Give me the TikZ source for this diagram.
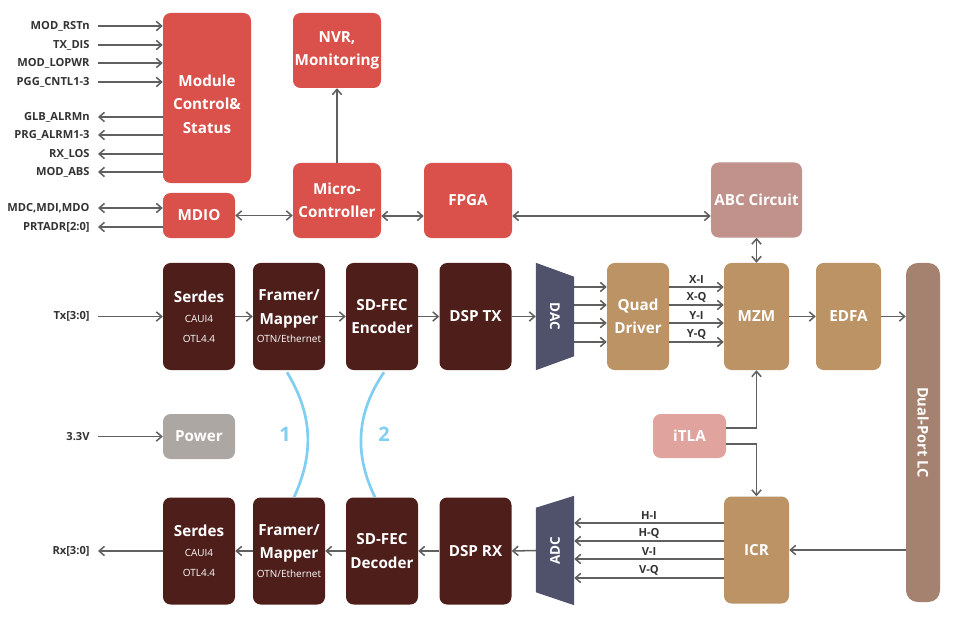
\documentclass[tikz,border=0pt]{standalone}
\usepackage{fontspec}
\setmainfont{Open Sans}
\usepackage{graphicx}
\usetikzlibrary{arrows.meta,positioning,calc}
\definecolor{Ctrl}{HTML}{D9514A}
\definecolor{Core}{HTML}{4E1F1A}
\definecolor{Optic}{HTML}{BB9365}
\definecolor{Abc}{HTML}{C0928B}
\definecolor{Laser}{HTML}{E0A39D}
\definecolor{Supply}{HTML}{ADA7A3}
\definecolor{Port}{HTML}{A4826F}
\definecolor{Conv}{HTML}{50516A}
\definecolor{Wire}{HTML}{606060}
\definecolor{Sky}{HTML}{80CEF2}
\definecolor{Lbl}{HTML}{333333}
\newcommand{\sub}[1]{{\fontsize{8.5}{9}\selectfont\mdseries #1}}
\tikzset{blk/.style={rounded corners=2.3mm,inner sep=1pt,align=center,text=white,font=\fontsize{13}{20}\selectfont\bfseries},
ctl/.style={blk,fill=Ctrl,minimum width=2.64cm,minimum height=2.25cm},
core/.style={blk,fill=Core,minimum width=2.16cm,minimum height=3.21cm},
optic/.style={blk,fill=Optic,minimum width=1.95cm,minimum height=3.21cm},
conv/.style={inner sep=0pt,minimum width=1.14cm,text=white,font=\fontsize{11.5}{12}\selectfont\bfseries},
flow/.style={-{Straight Barb[length=1.6mm,width=2.8mm]},line width=1.3pt,draw=Wire},
flow2/.style={flow,{Straight Barb[length=1.6mm,width=2.8mm]}-{Straight Barb[length=1.6mm,width=2.8mm]}},
sig/.style={anchor=east,inner xsep=7pt,inner ysep=1pt,font=\fontsize{9.5}{10}\selectfont\bfseries,text=Lbl},
tag/.style={above,inner sep=2pt,font=\fontsize{9.5}{10}\selectfont\bfseries,text=Lbl},
link/.style={draw=Sky,line width=2.3pt},
num/.style={text=Sky,font=\fontsize{17}{17}\selectfont\bfseries}}

\begin{document}
\begin{tikzpicture}[x=0.03cm,y=-0.03cm]
\useasboundingbox (0,0) rectangle (953,623);
% management side
\node[ctl,minimum height=5.1cm] (ctrl) at (207,98) {\rule{0pt}{20pt}Module\\Control\&\\Status};
\node[ctl,minimum width=2.16cm,minimum height=1.35cm] (mdio) at (199,215.5) {MDIO};
\node[ctl] (nvr) at (337,50.5) {NVR,\\Monitoring};
\node[ctl] (mcu) at (337,200.5) {Micro-\\Controller};
\node[ctl] (fpga) at (468,200.5) {FPGA};
\node[blk,fill=Abc,minimum width=2.73cm,minimum height=2.25cm] (abc) at (756.5,200) {ABC Circuit};
\foreach \y/\t/\n in {26/MOD\_RSTn/i1,45/TX\_DIS/i2,63/MOD\_LOPWR/i3,82/PGG\_CNTL1-3/i4}{
  \node[sig] (\n) at (98,\y) {\t};
  \draw[flow] (\n.east) -- (\n.east -| ctrl.west);}
\foreach \y/\t/\n in {117/GLB\_ALRMn/o1,135/PRG\_ALRM1-3/o2,154/RX\_LOS/o3,172/MOD\_ABS/o4}{
  \node[sig] (\n) at (98,\y) {\t};
  \draw[flow] (\n.east -| ctrl.west) -- (\n.east);}
\node[sig] (m1) at (98,208) {MDC,MDI,MDO};
\node[sig] (m2) at (98,227) {PRTADR[2:0]};
\draw[flow2] (m1.east) -- (m1.east -| mdio.west);
\draw[flow] (m2.east -| mdio.west) -- (m2.east);
\draw[flow2] (mdio.east) -- (mdio.east -| mcu.west);
\draw[flow] (mcu.north) -- (nvr.south);
\draw[flow2] (mcu.east |- 0,216) -- (fpga.west |- 0,216);
\draw[flow2] (fpga.east |- 0,216) -- (abc.west |- 0,216);
% transmit path
\node[core] (sertx) at (199,316.5) {Serdes\\[-3pt]\sub{CAUI4}\\[-3pt]\sub{OTL4.4}};
\node[core] (fmtx) at (289,316.5) {Framer/\\Mapper\\[-4pt]\sub{OTN/Ethernet}};
\node[core] (fectx) at (382,316.5) {SD-FEC\\Encoder};
\node[core] (dsptx) at (475.5,316.5) {DSP TX};
\node[conv,minimum height=3.21cm] (dac) at (555,316.5) {};
\node[optic,minimum width=1.86cm] (qd) at (638,316.5) {Quad\\Driver};
\node[optic] (mzm) at (756.5,316.5) {MZM};
\node[optic] (edfa) at (848.5,316.5) {EDFA};
\node[blk,fill=Port,rounded corners=3.5mm,minimum width=1.02cm,minimum height=10.17cm] (lc) at (923,432.5) {};
\node[text=white,font=\fontsize{12.5}{13}\selectfont\bfseries] (lct) at (lc.center) {\rotatebox{-90}{Dual-Port LC}};
\node[sig] (tx) at (98,316.5) {Tx[3:0]};
\draw[flow] (tx.east) -- (sertx.west);
\draw[flow] (sertx) -- (fmtx);
\draw[flow] (fmtx) -- (fectx);
\draw[flow] (fectx) -- (dsptx);
\draw[flow] (dsptx.east) -- (dac.west);
\foreach \y in {287,305,323,342}
  \draw[flow] (dac.east |- 0,\y) -- (qd.west |- 0,\y);
\foreach \y/\t in {287/X-I,305/X-Q,323/Y-I,342/Y-Q}
  \draw[flow] (qd.east |- 0,\y) -- node[tag] {\t} (mzm.west |- 0,\y);
\draw[flow] (mzm) -- (edfa);
\draw[flow] (edfa.east) -- (edfa.east -| lc.west);
\draw[flow2] (abc.south) -- (mzm.north);
% laser and receive path
\node[blk,fill=Laser,minimum width=2.19cm,minimum height=1.32cm] (itla) at (689.5,436) {iTLA};
\node[blk,fill=Supply,minimum width=2.16cm,minimum height=1.35cm] (pwr) at (199,436.5) {Power};
\node[sig] (v33) at (98,436.5) {3.3V};
\draw[flow] (v33.east) -- (pwr.west);
\node[core] (serrx) at (199,551) {Serdes\\[-3pt]\sub{CAUI4}\\[-3pt]\sub{OTL4.4}};
\node[core] (fmrx) at (289,551) {Framer/\\Mapper\\[-4pt]\sub{OTN/Ethernet}};
\node[core] (fecrx) at (382,551) {SD-FEC\\Decoder};
\node[core] (dsprx) at (475.5,551) {DSP RX};
\node[conv,minimum height=3.27cm] (adc) at (555,550.5) {};
\node[optic] (icr) at (756.5,550) {ICR};
\node[sig] (rx) at (98,551) {Rx[3:0]};
\draw[flow] (itla.east |- 0,428) -| (mzm.south);
\draw[flow] (itla.east |- 0,444) -| (icr.north);
\draw[flow] (lc.west |- icr) -- (icr.east);
\foreach \y/\t in {523/H-I,541/H-Q,559/V-I,578/V-Q}
  \draw[flow] (icr.west |- 0,\y) -- node[tag] {\t} (adc.east |- 0,\y);
\draw[flow] (adc.west) -- (dsprx.east);
\draw[flow] (dsprx) -- (fecrx);
\draw[flow] (fecrx) -- (fmrx);
\draw[flow] (fmrx) -- (serrx);
\draw[flow] (serrx.west) -- (rx.east);
% converter bodies
\fill[Conv] (dac.north west) -- ($(dac.north east)+(0,14)$) -- ($(dac.south east)+(0,-14)$) -- (dac.south west) -- cycle;
\fill[Conv] ($(adc.north west)+(0,12)$) -- (adc.north east) -- (adc.south east) -- ($(adc.south west)+(0,-13)$) -- cycle;
\node[conv] (dact) at (dac.center) {\rotatebox{-90}{DAC}};
\node[conv] (adct) at (adc.center) {\rotatebox{90}{ADC}};
% FEC links
\draw[link] ($(fmtx.south)+(-2,2)$) to[bend left=28] ($(fmrx.north)+(5,0)$);
\draw[link] ($(fectx.south)+(2,2)$) to[bend right=30] ($(fecrx.north)+(-7,0)$);
\node[num] (n1) at (285,434) {1};
\node[num] (n2) at (384,434) {2};
\end{tikzpicture}
\end{document}
